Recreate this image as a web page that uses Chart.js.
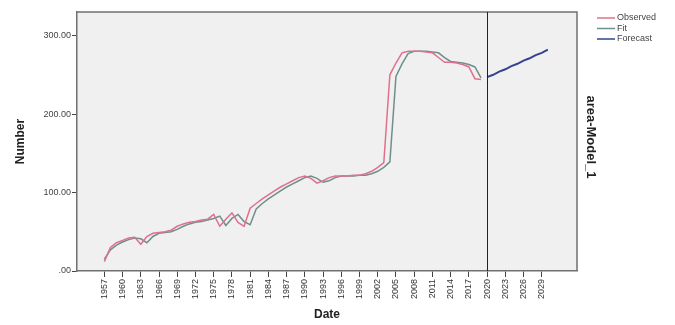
<!DOCTYPE html>
<html>
<head>
<meta charset="utf-8">
<script src="https://cdn.jsdelivr.net/npm/chart.js@4.4.0/dist/chart.umd.min.js"></script>
<style>
  body { margin: 0; background: #fff; }
  canvas { display: block; }
</style>
</head>
<body>
<canvas id="chart" width="675" height="325"></canvas>
<script>
// yearly values
const obsStart = 1957
const observed = [12, 30, 36, 39, 42, 43, 34, 44, 48, 49,
  50, 52, 57, 60, 62, 63, 65, 66, 72, 57,
  66, 74, 62, 57, 80, 86, 92, 97, 102, 107,
  111, 115, 119, 121, 118, 112, 115, 119, 121, 121,
  121, 122, 122, 124, 127, 132, 138, 250, 265, 278,
  280, 280, 280, 279, 278, 272, 266, 266, 265, 263,
  260, 245, 244]
const fit = [15, 27, 33, 37, 40, 42, 41, 36, 44, 48,
  49, 50, 53, 57, 60, 62, 63, 65, 67, 70,
  58, 67, 72, 63, 59, 79, 86, 92, 97, 102,
  107, 111, 115, 119, 121, 118, 113, 115, 119, 121,
  121, 121, 122, 122, 124, 127, 132, 139, 248, 264,
  277, 280, 280, 280, 279, 278, 272, 267, 266, 265,
  263, 260, 246]
const fcStart = 2020
const forecast = [247, 250, 254, 257, 261, 264, 268, 271, 275, 278, 282]
const yearTicks = [1957, 1960, 1963, 1966, 1969, 1972, 1975, 1978, 1981, 1984, 1987, 1990,
  1993, 1996, 1999, 2002, 2005, 2008, 2011, 2014, 2017, 2020, 2023, 2026, 2029]
const valueTicks = [0, 100, 200, 300]
const markerYear = 2020

const toPoints = (start, arr) => arr.map((v, i) => ({ x: start + i, y: v }))

const font = "'Liberation Sans', Arial, sans-serif"

const spssLook = {
  id: 'spssLook',
  beforeDraw(chart) {
    const { ctx, chartArea: a } = chart
    ctx.save()
    ctx.fillStyle = '#f0f0f0'
    ctx.fillRect(a.left, a.top, a.right - a.left, a.bottom - a.top)
    ctx.restore()
  },
  afterDraw(chart) {
    const { ctx, chartArea: a } = chart
    ctx.save()
    // top and right frame
    ctx.strokeStyle = '#707070'
    ctx.lineWidth = 1.5
    ctx.beginPath()
    ctx.moveTo(a.left, a.top)
    ctx.lineTo(a.right, a.top)
    ctx.lineTo(a.right, a.bottom)
    ctx.stroke()

    // reference line at forecast origin
    const xm = Math.round(chart.scales.x.getPixelForValue(markerYear)) + 0.5
    ctx.strokeStyle = '#222'
    ctx.lineWidth = 1
    ctx.beginPath()
    ctx.moveTo(xm, a.top)
    ctx.lineTo(xm, a.bottom)
    ctx.stroke()

    // legend
    ctx.font = '9px ' + font
    ctx.textBaseline = 'middle'
    ctx.textAlign = 'left'
    chart.data.datasets.forEach((ds, i) => {
      const y = 18 + i * 10.5
      ctx.strokeStyle = ds.borderColor
      ctx.lineWidth = 1.5
      ctx.beginPath()
      ctx.moveTo(597, y)
      ctx.lineTo(615, y)
      ctx.stroke()
      ctx.fillStyle = '#444'
      ctx.fillText(ds.label, 617, y)
    })

    // right side model label
    ctx.translate(591, 137)
    ctx.rotate(Math.PI / 2)
    ctx.font = 'bold 13px ' + font
    ctx.textAlign = 'center'
    ctx.fillStyle = '#222'
    ctx.fillText('area-Model_1', 0, 0)
    ctx.restore()
  }
}

new Chart(document.getElementById('chart'), {
  type: 'line',
  data: {
    datasets: [{
      label: 'Observed',
      data: toPoints(obsStart, observed),
      borderColor: '#e0708c',
      borderWidth: 1.5,
      pointRadius: 0
    }, {
      label: 'Fit',
      data: toPoints(obsStart, fit),
      borderColor: '#6f8f8c',
      borderWidth: 1.5,
      pointRadius: 0
    }, {
      label: 'Forecast',
      data: toPoints(fcStart, forecast),
      borderColor: '#37428f',
      borderWidth: 2,
      pointRadius: 0
    }]
  },
  options: {
    responsive: false,
    animation: false,
    devicePixelRatio: 1,
    layout: { padding: { top: 12, right: 98, bottom: 0, left: 0 } },
    plugins: { legend: { display: false }, tooltip: { enabled: false } },
    scales: {
      x: {
        type: 'linear',
        min: 1952.5,
        max: 2034.8,
        afterBuildTicks: s => { s.ticks = yearTicks.map(v => ({ value: v })) },
        afterFit: s => { s.height = 54 },
        ticks: {
          autoSkip: false,
          minRotation: 90,
          maxRotation: 90,
          padding: 2,
          color: '#333',
          font: { size: 9, family: font },
          callback: v => String(v)
        },
        grid: { drawOnChartArea: false, drawTicks: true, tickLength: 6, color: '#444' },
        border: { color: '#707070', width: 1.5 },
        title: {
          display: true,
          text: 'Date',
          color: '#222',
          padding: { top: 3, bottom: 3 },
          font: { size: 12, weight: 'bold', family: font }
        }
      },
      y: {
        min: 0,
        max: 330,
        afterBuildTicks: s => { s.ticks = valueTicks.map(v => ({ value: v })) },
        afterFit: s => { s.width = 77 },
        ticks: {
          padding: 1,
          color: '#444',
          font: { size: 9, family: font },
          callback: v => v === 0 ? '.00' : v.toFixed(2)
        },
        grid: { drawOnChartArea: false, drawTicks: true, tickLength: 5, color: '#444' },
        border: { color: '#707070', width: 1.5 },
        title: {
          display: true,
          text: 'Number',
          color: '#222',
          padding: { top: 13, bottom: 0 },
          font: { size: 12, weight: 'bold', family: font }
        }
      }
    }
  },
  plugins: [spssLook]
});
</script>
</body>
</html>
